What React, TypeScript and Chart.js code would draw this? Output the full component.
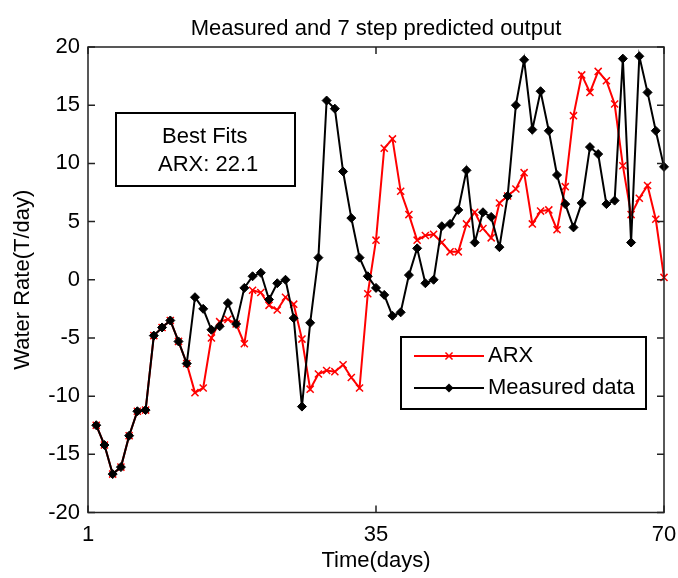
import React, { useEffect, useRef } from 'react';
import { Chart, registerables } from 'chart.js';

Chart.register(...registerables);

// Sample index (days) and the two series
const days = [
  1, 2, 3, 4, 5, 6, 7, 8, 9, 10,
  11, 12, 13, 14, 15, 16, 17, 18, 19, 20,
  21, 22, 23, 24, 25, 26, 27, 28, 29, 30,
  31, 32, 33, 34, 35, 36, 37, 38, 39, 40,
  41, 42, 43, 44, 45, 46, 47, 48, 49, 50,
  51, 52, 53, 54, 55, 56, 57, 58, 59, 60,
  61, 62, 63, 64, 65, 66, 67, 68, 69, 70,
];

const measured = [
  -12.5, -14.2, -16.7, -16.1, -13.4, -11.3, -11.2, -4.8, -4.1, -3.5,
  -5.3, -7.2, -1.5, -2.5, -4.3, -4.0, -2.0, -3.8, -0.7, 0.3,
  0.6, -1.7, -0.3, 0.0, -3.3, -10.9, -3.7, 1.9, 15.4, 14.7,
  9.3, 5.3, 1.9, 0.3, -0.7, -1.3, -3.1, -2.8, 0.4, 2.7,
  -0.3, 0.0, 4.6, 4.8, 6.0, 9.4, 3.2, 5.8, 5.4, 2.8,
  7.2, 15.0, 18.9, 12.9, 16.2, 12.8, 9.0, 6.5, 4.5, 6.6,
  11.4, 10.8, 6.5, 6.8, 19.0, 3.2, 19.2, 16.1, 12.8, 9.7,
];

const arxPredicted = [
  -12.5, -14.2, -16.7, -16.1, -13.4, -11.3, -11.2, -4.8, -4.1, -3.5,
  -5.3, -7.2, -9.7, -9.3, -5.0, -3.6, -3.4, -3.8, -5.5, -0.9,
  -1.1, -2.2, -2.6, -1.5, -2.1, -5.1, -9.4, -8.1, -7.8, -7.9,
  -7.3, -8.4, -9.3, -1.2, 3.4, 11.3, 12.1, 7.6, 5.6, 3.4,
  3.8, 3.9, 3.2, 2.4, 2.4, 4.8, 5.8, 4.4, 3.6, 6.6,
  7.2, 7.8, 9.2, 4.8, 5.9, 6.0, 4.3, 8.0, 14.1, 17.6,
  16.1, 17.9, 17.1, 15.1, 9.8, 5.6, 7.0, 8.1, 5.2, 0.2,
];

const xTickValues = [0, 35, 70];
const xTickLabels = ['1', '35', '70'];
const yTickValues = [-20, -15, -10, -5, 0, 5, 10, 15, 20];

const chartTitle = 'Measured and 7 step predicted output';
const xAxisTitle = 'Time(days)';
const yAxisTitle = 'Water Rate(T/day)';
const seriesNames = ['ARX', 'Measured data'];
const fitLines = ['Best Fits', 'ARX: 22.1'];

const SANS = '"Liberation Sans", Arial, sans-serif';

const toPoints = (ys: number[]) => days.map((d, i) => ({ x: d, y: ys[i] }));

function drawMarker(ctx: CanvasRenderingContext2D, style: string, x: number, y: number, r: number, color: string) {
  ctx.save();
  if (style === 'rectRot') {
    ctx.fillStyle = color;
    ctx.beginPath();
    ctx.moveTo(x, y - r);
    ctx.lineTo(x + r, y);
    ctx.lineTo(x, y + r);
    ctx.lineTo(x - r, y);
    ctx.closePath();
    ctx.fill();
  } else {
    const d = r * Math.SQRT1_2;
    ctx.strokeStyle = color;
    ctx.lineWidth = 1.5;
    ctx.beginPath();
    ctx.moveTo(x - d, y - d);
    ctx.lineTo(x + d, y + d);
    ctx.moveTo(x + d, y - d);
    ctx.lineTo(x - d, y + d);
    ctx.stroke();
  }
  ctx.restore();
}

// Title, axes box with inward ticks, annotation box and legend
const decorations = {
  id: 'decorations',
  afterDraw(chart: any) {
    const { ctx, chartArea } = chart;
    const { left, right, top, bottom } = chartArea;
    const xs = chart.scales.x;
    const ys = chart.scales.y;
    ctx.save();

    // title
    ctx.fillStyle = '#000';
    ctx.font = `22px ${SANS}`;
    ctx.textAlign = 'center';
    ctx.textBaseline = 'middle';
    ctx.fillText(chartTitle, (left + right) / 2, 29);

    // axes frame
    ctx.strokeStyle = '#222';
    ctx.lineWidth = 1.5;
    ctx.strokeRect(left, top, right - left, bottom - top);

    // inward tick marks
    const tl = 7;
    ctx.beginPath();
    ys.ticks.forEach((t: any) => {
      const py = ys.getPixelForValue(t.value);
      ctx.moveTo(left, py);
      ctx.lineTo(left + tl, py);
      ctx.moveTo(right, py);
      ctx.lineTo(right - tl, py);
    });
    xs.ticks.forEach((t: any) => {
      const px = xs.getPixelForValue(t.value);
      ctx.moveTo(px, bottom);
      ctx.lineTo(px, bottom - tl);
      ctx.moveTo(px, top);
      ctx.lineTo(px, top + tl);
    });
    ctx.stroke();

    // "Best Fits" annotation
    ctx.strokeStyle = '#000';
    ctx.lineWidth = 2;
    ctx.strokeRect(116, 113, 179, 73);
    ctx.font = `22px ${SANS}`;
    ctx.textAlign = 'left';
    ctx.fillText(fitLines[0], 162, 137);
    ctx.fillText(fitLines[1], 158, 165);

    // legend
    const lx = 401, ly = 337, lw = 245, lh = 72;
    ctx.fillStyle = '#fff';
    ctx.fillRect(lx, ly, lw, lh);
    ctx.strokeRect(lx, ly, lw, lh);
    const rows = [356, 388];
    chart.data.datasets.forEach((ds: any, i: number) => {
      const ry = rows[i];
      ctx.strokeStyle = ds.borderColor;
      ctx.lineWidth = 2;
      ctx.beginPath();
      ctx.moveTo(414, ry);
      ctx.lineTo(484, ry);
      ctx.stroke();
      drawMarker(ctx, ds.pointStyle, 449, ry, ds.pointRadius, ds.borderColor);
      ctx.fillStyle = '#000';
      ctx.font = `22px ${SANS}`;
      ctx.textAlign = 'left';
      ctx.textBaseline = 'middle';
      ctx.fillText(seriesNames[i], 488, ry);
    });

    ctx.restore();
  },
};

export default function App() {
  const canvasRef = useRef<HTMLCanvasElement | null>(null);

  useEffect(() => {
    const canvas = canvasRef.current;
    if (!canvas) return;
    const chart = new Chart(canvas, {
      type: 'line',
      data: {
        datasets: [
          {
            label: seriesNames[0],
            data: toPoints(arxPredicted),
            borderColor: '#ff0000',
            backgroundColor: '#ff0000',
            borderWidth: 2,
            pointStyle: 'crossRot',
            pointRadius: 5,
            pointBorderWidth: 1.5,
            pointBorderColor: '#ff0000',
            tension: 0,
            clip: false,
            order: 2,
          },
          {
            label: seriesNames[1],
            data: toPoints(measured),
            borderColor: '#000000',
            backgroundColor: '#000000',
            borderWidth: 2,
            pointStyle: 'rectRot',
            pointRadius: 4.5,
            pointBorderWidth: 1,
            pointBorderColor: '#000000',
            tension: 0,
            clip: false,
            order: 1,
          },
        ],
      },
      options: {
        responsive: false,
        animation: false,
        events: [],
        layout: { padding: { top: 47, right: 14, left: 0, bottom: 0 } },
        plugins: {
          legend: { display: false },
          title: { display: false },
          tooltip: { enabled: false },
        },
        scales: {
          x: {
            type: 'linear',
            min: 0,
            max: 70,
            grid: { display: false, drawTicks: false },
            border: { display: false },
            afterBuildTicks: (s: any) => {
              s.ticks = xTickValues.map((v) => ({ value: v }));
            },
            afterFit: (s: any) => {
              s.height = 65.5;
              s.paddingLeft = 0;
              s.paddingRight = 0;
            },
            ticks: {
              autoSkip: false,
              maxRotation: 0,
              padding: 9,
              color: '#000',
              font: { family: SANS, size: 22 },
              callback: (v: any) => xTickLabels[xTickValues.indexOf(Number(v))],
            },
            title: {
              display: true,
              text: xAxisTitle,
              color: '#000',
              font: { family: SANS, size: 22 },
              padding: { top: 0, bottom: 4 },
            },
          },
          y: {
            type: 'linear',
            min: -20,
            max: 20,
            grid: { display: false, drawTicks: false },
            border: { display: false },
            afterBuildTicks: (s: any) => {
              s.ticks = yTickValues.map((v) => ({ value: v }));
            },
            afterFit: (s: any) => {
              s.width = 88;
              s.paddingTop = 0;
              s.paddingBottom = 0;
            },
            ticks: {
              padding: 8,
              color: '#000',
              font: { family: SANS, size: 22 },
            },
            title: {
              display: true,
              text: yAxisTitle,
              color: '#000',
              font: { family: SANS, size: 22 },
              padding: { top: 10, bottom: 0 },
            },
          },
        },
      },
      plugins: [decorations],
    });
    return () => chart.destroy();
  }, []);

  return (
    <div style={{ position: 'absolute', left: 0, top: 0, width: 678, height: 578, background: '#fff' }}>
      <canvas ref={canvasRef} width={678} height={578} />
    </div>
  );
}
